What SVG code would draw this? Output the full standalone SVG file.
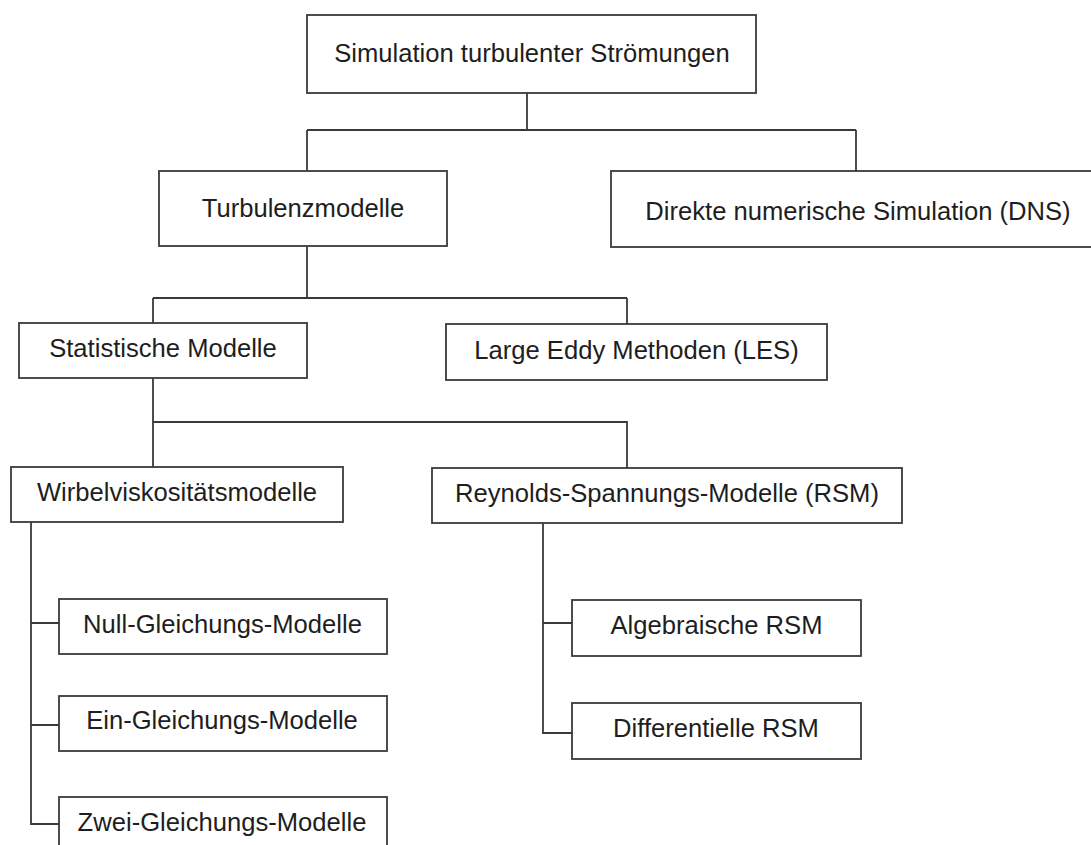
<svg xmlns="http://www.w3.org/2000/svg" width="1091" height="845" viewBox="0 0 1091 845">
<style>
.box{fill:#fff;stroke:#3a3a3a;stroke-width:1.8}
.lbl{font-family:"Liberation Sans",Arial,sans-serif;font-size:25.6px;fill:#1e1e1e;text-anchor:middle}
.con{fill:none;stroke:#3a3a3a;stroke-width:1.8}
</style>
<rect width="1091" height="845" fill="#fff"/>
<g id="connectors">
<path class="con" d="M527,93 V130 M307,130 H856 M307,130 V171 M856,130 V171"/>
<path class="con" d="M307,246 V298 M153,298 H627 M153,298 V323 M627,298 V324"/>
<path class="con" d="M153,378 V467 M153,422 H627 V468"/>
<path class="con" d="M31,522 V824 H59 M31,623 H59 M31,725 H59"/>
<path class="con" d="M543,523 V733 H572 M543,623 H572"/>
</g>
<g id="n-root"><rect class="box" x="307" y="15" width="449" height="78"/><text class="lbl" x="532" y="62">Simulation turbulenter Strömungen</text></g>
<g id="n-turb"><rect class="box" x="159" y="171" width="288" height="75"/><text class="lbl" x="303" y="217">Turbulenzmodelle</text></g>
<g id="n-dns"><rect class="box" x="611" y="171" width="496" height="76"/><text class="lbl" x="858" y="220">Direkte numerische Simulation (DNS)</text></g>
<g id="n-stat"><rect class="box" x="19" y="323" width="288" height="55"/><text class="lbl" x="163" y="357">Statistische Modelle</text></g>
<g id="n-les"><rect class="box" x="446" y="324" width="381" height="56"/><text class="lbl" x="636.5" y="359">Large Eddy Methoden (LES)</text></g>
<g id="n-wirb"><rect class="box" x="11" y="467" width="332" height="55"/><text class="lbl" x="177" y="501">Wirbelviskositätsmodelle</text></g>
<g id="n-rsm"><rect class="box" x="432" y="468" width="470" height="55"/><text class="lbl" x="667" y="502">Reynolds-Spannungs-Modelle (RSM)</text></g>
<g id="n-null"><rect class="box" x="59" y="599" width="328" height="55"/><text class="lbl" x="222.5" y="633">Null-Gleichungs-Modelle</text></g>
<g id="n-ein"><rect class="box" x="59" y="696" width="328" height="55"/><text class="lbl" x="222" y="729">Ein-Gleichungs-Modelle</text></g>
<g id="n-zwei"><rect class="box" x="59" y="797" width="328" height="56"/><text class="lbl" x="222" y="831">Zwei-Gleichungs-Modelle</text></g>
<g id="n-alg"><rect class="box" x="572" y="600" width="289" height="56"/><text class="lbl" x="716.5" y="634">Algebraische RSM</text></g>
<g id="n-diff"><rect class="box" x="572" y="703" width="289" height="56"/><text class="lbl" x="716" y="737">Differentielle RSM</text></g>
</svg>
